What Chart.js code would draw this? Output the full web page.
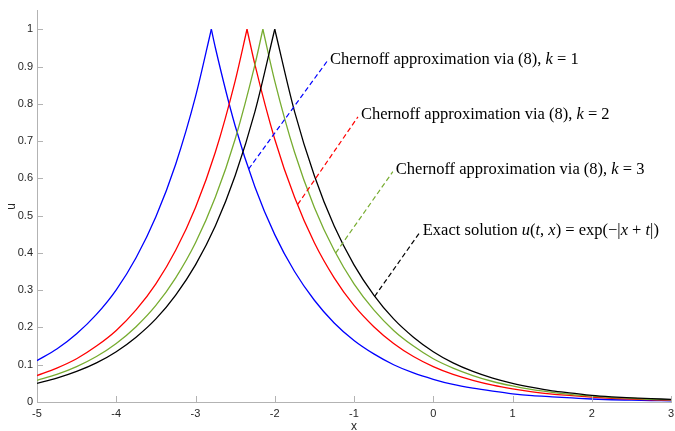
<!DOCTYPE html>
<html>
<head>
<meta charset="utf-8">
<script src="https://cdn.jsdelivr.net/npm/chart.js@4"></script>
<style>
  html, body { margin: 0; padding: 0; background: #fff; }
  #wrap { width: 675px; height: 431px; }
</style>
</head>
<body>
<div id="wrap"><canvas id="myChart"></canvas></div>
<script>
// x grid the curves were read at
const xGrid = [-5,-4.75,-4.5,-4.25,-4,-3.75,-3.5,-3.25,-3,-2.75,-2.5,-2.25,-2,-1.75,-1.5,-1.25,-1,-0.75,-0.5,-0.25,0,0.25,0.5,0.75,1,1.25,1.5,1.75,2,2.25,2.5,2.75,3];

// u values
const blueU  = [0.111,0.142,0.183,0.235,0.301,0.387,0.497,0.638,0.819,0.951,0.741,0.577,0.449,0.350,0.273,0.212,0.165,0.129,0.100,0.078,0.061,0.047,0.037,0.029,0.022,0.017,0.014,0.011,0.008,0.006,0.005,0.004,0.003];
const redU   = [0.071,0.091,0.116,0.150,0.192,0.247,0.317,0.407,0.522,0.670,0.861,0.905,0.705,0.549,0.427,0.333,0.259,0.202,0.157,0.122,0.095,0.074,0.058,0.045,0.035,0.027,0.021,0.017,0.013,0.010,0.008,0.006,0.005];
const greenU = [0.058,0.074,0.095,0.122,0.157,0.202,0.259,0.333,0.427,0.549,0.705,0.905,0.861,0.670,0.522,0.407,0.317,0.247,0.192,0.150,0.116,0.091,0.071,0.055,0.043,0.033,0.026,0.020,0.016,0.012,0.010,0.007,0.006];
const blackU = [0.050,0.064,0.082,0.105,0.135,0.174,0.223,0.287,0.368,0.472,0.607,0.779,1.000,0.779,0.607,0.472,0.368,0.287,0.223,0.174,0.135,0.105,0.082,0.064,0.050,0.039,0.030,0.024,0.018,0.014,0.011,0.009,0.007];

// where each peak sits (u = 1 there)
const peakX = [-2.8, -2.35, -2.15, -2];

const xTicks = [-5,-4,-3,-2,-1,0,1,2,3];
const yTicks = [0,0.1,0.2,0.3,0.4,0.5,0.6,0.7,0.8,0.9,1];

// leader lines: from a point on the curve to the label
const noteFrom = [[-2.33,0.625],[-1.71,0.530],[-1.23,0.400],[-0.74,0.283]];
const noteTo   = [[-1.34,0.914],[-0.95,0.765],[-0.51,0.618],[-0.17,0.455]];
const noteLabels = [
  [['Chernoff approximation via (8), ',0],['k',1],[' = 1',0]],
  [['Chernoff approximation via (8), ',0],['k',1],[' = 2',0]],
  [['Chernoff approximation via (8), ',0],['k',1],[' = 3',0]],
  [['Exact solution ',0],['u',1],['(',0],['t',1],[', ',0],['x',1],[') = exp(\u2212|',0],['x',1],[' + ',0],['t',1],['|)',0]]
];

const seriesU = [blueU, redU, greenU, blackU];
const colors = ['#0000ff', '#ff0000', '#77ac30', '#000000'];

// split each curve at its peak so the cusp stays sharp
const datasets = [];
seriesU.forEach((u, s) => {
  const pts = xGrid.map((x, i) => ({x: x, y: u[i]}));
  if (!pts.some(p => p.x === peakX[s])) pts.push({x: peakX[s], y: 1});
  pts.sort((a, b) => a.x - b.x);
  const left = pts.filter(p => p.x <= peakX[s]);
  const right = pts.filter(p => p.x >= peakX[s]);
  [left, right].forEach(part => {
    datasets.push({
      data: part,
      borderColor: colors[s],
      borderWidth: 1.3,
      pointRadius: 0,
      cubicInterpolationMode: 'monotone',
      fill: false,
      order: 10 - s
    });
  });
});

const axisColor = '#b3b3b3';
const tickText = '#262626';

const innerTicks = {
  id: 'innerTicks',
  afterDatasetsDraw(chart) {
    const c = chart.ctx, a = chart.chartArea;
    const xs = chart.scales.x, ys = chart.scales.y;
    c.save();
    c.strokeStyle = axisColor;
    c.lineWidth = 1;
    c.beginPath();
    xTicks.forEach(v => {
      const px = Math.round(xs.getPixelForValue(v)) + 0.5;
      c.moveTo(px, a.bottom); c.lineTo(px, a.bottom - 6);
    });
    yTicks.forEach(v => {
      const py = Math.round(ys.getPixelForValue(v)) + 0.5;
      c.moveTo(a.left, py); c.lineTo(a.left + 6, py);
    });
    c.stroke();
    c.restore();
  }
};

const notes = {
  id: 'notes',
  afterDatasetsDraw(chart) {
    const c = chart.ctx;
    const xs = chart.scales.x, ys = chart.scales.y;
    c.save();
    noteFrom.forEach((f, i) => {
      const x0 = xs.getPixelForValue(f[0]), y0 = ys.getPixelForValue(f[1]);
      const x1 = xs.getPixelForValue(noteTo[i][0]), y1 = ys.getPixelForValue(noteTo[i][1]);
      c.strokeStyle = colors[i];
      c.lineWidth = 1.2;
      c.setLineDash([5, 3]);
      c.beginPath(); c.moveTo(x0, y0); c.lineTo(x1, y1); c.stroke();
      c.setLineDash([]);
      let tx = x1 + 3;
      c.fillStyle = '#000';
      c.textBaseline = 'middle';
      noteLabels[i].forEach(run => {
        c.font = (run[1] ? 'italic ' : '') + '16.5px "Liberation Serif"';
        c.fillText(run[0], tx, y1 - 2);
        tx += c.measureText(run[0]).width;
      });
    });
    c.restore();
  }
};

const ctx = document.getElementById('myChart');
new Chart(ctx, {
  type: 'line',
  data: { datasets },
  plugins: [innerTicks, notes],
  options: {
    responsive: true,
    maintainAspectRatio: false,
    animation: false,
    layout: { padding: { top: 7, right: 4, left: 4, bottom: 0 } },
    plugins: { legend: { display: false }, tooltip: { enabled: false } },
    scales: {
      x: {
        type: 'linear',
        min: -5,
        max: 3,
        afterBuildTicks: s => { s.ticks = xTicks.map(v => ({value: v})); },
        afterFit: s => { s.height = 29; s.paddingLeft = 0; s.paddingRight = 0; },
        grid: { display: true, drawOnChartArea: false, drawTicks: false },
        border: { color: axisColor, width: 1 },
        ticks: { color: tickText, padding: 5, font: { family: 'Liberation Sans', size: 11 } },
        title: { display: true, text: 'x', color: tickText, padding: { top: 0, bottom: -3 }, font: { family: 'Liberation Sans', size: 12 } }
      },
      y: {
        min: 0,
        max: 1.05,
        afterBuildTicks: s => { s.ticks = yTicks.map(v => ({value: v})); },
        afterFit: s => { s.width = 33; },
        grid: { display: true, drawOnChartArea: false, drawTicks: false },
        border: { color: axisColor, width: 1 },
        ticks: { color: tickText, padding: 4, font: { family: 'Liberation Sans', size: 11 },
                 callback: v => String(Math.round(v * 10) / 10) },
        title: { display: true, text: 'u', color: tickText, padding: 0, font: { family: 'Liberation Sans', size: 12 } }
      }
    }
  }
});
</script>
</body>
</html>
